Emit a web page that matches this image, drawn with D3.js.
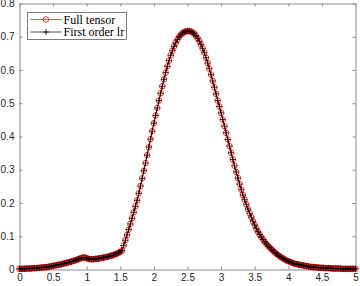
<!DOCTYPE html>
<html>
<head>
<meta charset="utf-8">
<script src="https://cdn.jsdelivr.net/npm/d3@7"></script>
<style>
  html, body { margin: 0; padding: 0; background: #ffffff; }
  #chart { width: 360px; height: 286px; }
</style>
</head>
<body>
<div id="chart"></div>
<script>
// sample grid: x from 0 to 5, step 0.025 (201 samples)
const xStart = 0;
const xStep = 0.025;

// values, one per sample
const fullTensorValues = [
  0.002, 0.002, 0.002, 0.002, 0.003, 0.003, 0.003, 0.003, 0.004, 0.004,
  0.004, 0.005, 0.005, 0.006, 0.006, 0.007, 0.007, 0.008, 0.009, 0.010,
  0.011, 0.012, 0.013, 0.014, 0.015, 0.016, 0.017, 0.019, 0.020, 0.021,
  0.023, 0.024, 0.026, 0.027, 0.029, 0.031, 0.033, 0.035, 0.036, 0.036,
  0.034, 0.032, 0.031, 0.031, 0.031, 0.032, 0.032, 0.033, 0.034, 0.035,
  0.036, 0.037, 0.038, 0.039, 0.041, 0.042, 0.044, 0.046, 0.048, 0.050,
  0.053, 0.057, 0.072, 0.088, 0.104, 0.120, 0.137, 0.154, 0.172, 0.190,
  0.208, 0.229, 0.251, 0.274, 0.297, 0.320, 0.344, 0.368, 0.392, 0.416,
  0.440, 0.463, 0.486, 0.508, 0.530, 0.551, 0.572, 0.592, 0.611, 0.628,
  0.644, 0.658, 0.671, 0.682, 0.692, 0.700, 0.706, 0.711, 0.714, 0.716,
  0.717, 0.717, 0.716, 0.713, 0.709, 0.703, 0.696, 0.687, 0.677, 0.665,
  0.652, 0.637, 0.621, 0.604, 0.586, 0.567, 0.548, 0.528, 0.508, 0.490,
  0.471, 0.451, 0.431, 0.411, 0.391, 0.371, 0.351, 0.331, 0.312, 0.293,
  0.275, 0.257, 0.240, 0.224, 0.210, 0.196, 0.182, 0.169, 0.157, 0.145,
  0.134, 0.123, 0.113, 0.105, 0.097, 0.090, 0.083, 0.077, 0.071, 0.066,
  0.061, 0.056, 0.051, 0.047, 0.043, 0.039, 0.036, 0.033, 0.030, 0.027,
  0.025, 0.023, 0.021, 0.019, 0.017, 0.016, 0.015, 0.014, 0.013, 0.012,
  0.011, 0.010, 0.009, 0.008, 0.008, 0.007, 0.007, 0.006, 0.006, 0.005,
  0.005, 0.005, 0.004, 0.004, 0.004, 0.004, 0.003, 0.003, 0.003, 0.003,
  0.003, 0.003, 0.002, 0.002, 0.002, 0.002, 0.002, 0.002, 0.002, 0.002,
  0.002
];

// the low-rank curve sits on top of the full tensor one at this size
const firstOrderValues = fullTensorValues.slice();

const seriesNames = ["Full tensor", "First order lr"];
const xTicks = [0, 0.5, 1, 1.5, 2, 2.5, 3, 3.5, 4, 4.5, 5];
const yTicks = [0, 0.1, 0.2, 0.3, 0.4, 0.5, 0.6, 0.7, 0.8];

const width = 360;
const height = 286;
const margin = { top: 3, right: 5, bottom: 17, left: 19 };
const axisColor = "#8a8a8a";
const textColor = "#262626";

const svg = d3.select("#chart")
  .append("svg")
  .attr("width", width)
  .attr("height", height);

const innerWidth = width - margin.left - margin.right;
const innerHeight = height - margin.top - margin.bottom;

const chart = svg.append("g")
  .attr("transform", `translate(${margin.left + 0.5},${margin.top + 0.5})`);

const x = d3.scaleLinear().domain([0, 5]).range([0, innerWidth]);
const y = d3.scaleLinear().domain([0, 0.8]).range([innerHeight, 0]);

const toPoints = (values) => values.map((v, i) => ({ x: xStart + i * xStep, y: v }));
const fullPoints = toPoints(fullTensorValues);
const lrPoints = toPoints(firstOrderValues);

// axes: ticks pointing inward, box on all four sides
const styleAxis = (g) => {
  g.selectAll(".domain").attr("stroke", axisColor);
  g.selectAll(".tick line").attr("stroke", axisColor);
  g.selectAll("text")
    .attr("fill", textColor)
    .style("font-family", "'Liberation Sans', Arial, sans-serif")
    .style("font-size", "10px");
};

chart.append("g")
  .attr("transform", `translate(0,${innerHeight})`)
  .call(d3.axisBottom(x).tickValues(xTicks).tickSize(-3).tickSizeOuter(0).tickPadding(4).tickFormat(d3.format("")))
  .call(styleAxis);

chart.append("g")
  .call(d3.axisTop(x).tickValues(xTicks).tickSize(-3).tickSizeOuter(0).tickFormat(""))
  .call(styleAxis);

chart.append("g")
  .call(d3.axisLeft(y).tickValues(yTicks).tickSize(-3).tickSizeOuter(0).tickPadding(5).tickFormat(d3.format("")))
  .call(styleAxis);

chart.append("g")
  .attr("transform", `translate(${innerWidth},0)`)
  .call(d3.axisRight(y).tickValues(yTicks).tickSize(-3).tickSizeOuter(0).tickFormat(""))
  .call(styleAxis);

const line = d3.line().x((d) => x(d.x)).y((d) => y(d.y));

// Full tensor: red line with open circles
chart.append("path")
  .datum(fullPoints)
  .attr("fill", "none")
  .attr("stroke", "#ff0000")
  .attr("stroke-width", 0.8)
  .attr("d", line);

chart.append("g")
  .selectAll("circle")
  .data(fullPoints)
  .enter()
  .append("circle")
  .attr("cx", (d) => x(d.x))
  .attr("cy", (d) => y(d.y))
  .attr("r", 2.8)
  .attr("fill", "none")
  .attr("stroke", "#ff0000")
  .attr("stroke-width", 0.8);

// First order lr: black line with plus markers
chart.append("path")
  .datum(lrPoints)
  .attr("fill", "none")
  .attr("stroke", "#000000")
  .attr("stroke-width", 0.8)
  .attr("d", line);

const plus = (cx, cy, s) => `M${cx - s},${cy}H${cx + s}M${cx},${cy - s}V${cy + s}`;

chart.append("g")
  .selectAll("path")
  .data(lrPoints)
  .enter()
  .append("path")
  .attr("d", (d) => plus(x(d.x), y(d.y), 3))
  .attr("stroke", "#000000")
  .attr("stroke-width", 0.8);

// legend
const legend = svg.append("g").attr("transform", "translate(27.5,12.5)");

legend.append("rect")
  .attr("width", 99)
  .attr("height", 27)
  .attr("fill", "#ffffff")
  .attr("stroke", "#262626")
  .attr("stroke-width", 0.6);

seriesNames.forEach((name, i) => {
  const row = legend.append("g").attr("transform", `translate(0,${7 + i * 12.5})`);
  const color = i === 0 ? "#ff0000" : "#000000";

  row.append("line")
    .attr("x1", 3).attr("x2", 34)
    .attr("stroke", color)
    .attr("stroke-width", 0.7);

  if (i === 0) {
    row.append("circle")
      .attr("cx", 18.5).attr("r", 2.8)
      .attr("fill", "none")
      .attr("stroke", color)
      .attr("stroke-width", 0.8);
  } else {
    row.append("path")
      .attr("d", plus(18.5, 0, 3))
      .attr("stroke", color)
      .attr("stroke-width", 0.8);
  }

  row.append("text")
    .attr("x", 36)
    .attr("dy", "0.35em")
    .attr("fill", "#000000")
    .style("font-family", "'Liberation Serif', 'Times New Roman', serif")
    .style("font-size", "12px")
    .text(name);
});
</script>
</body>
</html>
